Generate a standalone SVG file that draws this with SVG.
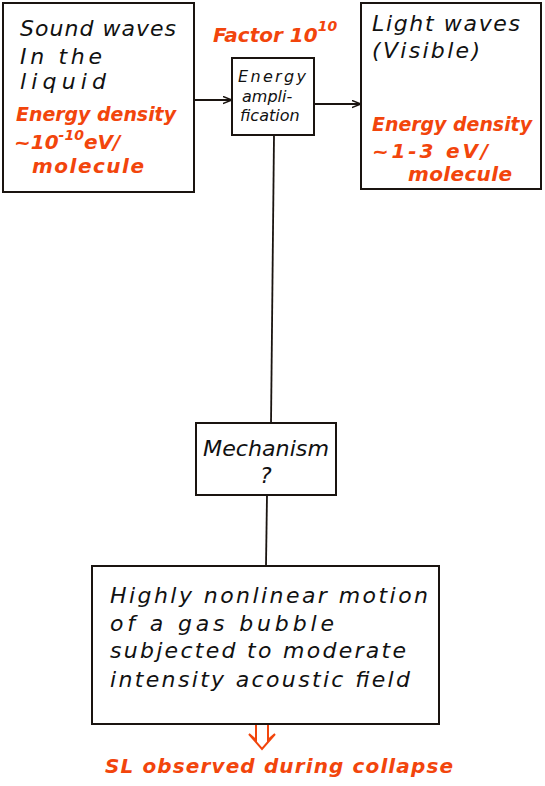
<svg xmlns="http://www.w3.org/2000/svg" width="545" height="786" viewBox="0 0 545 786">
<defs>
<style>
.box{fill:#fff;stroke:#1a1410;stroke-width:2}
.ln{stroke:#1a1410;stroke-width:1.8;fill:none}
.t{font-family:"DejaVu Sans",sans-serif;font-style:italic;font-size:22px;fill:#111}
.o{font-family:"DejaVu Sans",sans-serif;font-style:italic;font-weight:bold;font-size:20px;fill:#f2450c}
.s{font-family:"DejaVu Sans",sans-serif;font-style:italic;font-size:16px;fill:#111}
</style>
<marker id="ar" viewBox="0 0 10 10" refX="9" refY="5" markerWidth="9" markerHeight="9" orient="auto" markerUnits="userSpaceOnUse">
<path d="M0,1 L10,5 L0,9" fill="none" stroke="#1a1410" stroke-width="1.6"/>
</marker>
</defs>
<rect width="545" height="786" fill="#fff"/>
<g id="connectors">
<line class="ln" x1="194" y1="100" x2="231" y2="100" marker-end="url(#ar)"/>
<line class="ln" x1="314" y1="104" x2="360" y2="104" marker-end="url(#ar)"/>
<line class="ln" x1="274" y1="135" x2="271" y2="424"/>
<line class="ln" x1="267" y1="495" x2="266" y2="566"/>
<path d="M256,725 L256,740 L249,734 M268,725 L268,740 L275,734 M249,734 L262,749 L275,734" fill="none" stroke="#f2450c" stroke-width="2"/>
</g>
<g id="sound">
<rect class="box" x="3" y="3" width="191" height="189"/>
<text class="t" x="20" y="36" textLength="156" lengthAdjust="spacing">Sound waves</text>
<text class="t" x="20" y="64" textLength="82" lengthAdjust="spacing">In the</text>
<text class="t" x="20" y="89" textLength="86" lengthAdjust="spacing">liquid</text>
<text class="o" x="16" y="121" textLength="160" lengthAdjust="spacingAndGlyphs">Energy density</text>
<text class="o" x="14" y="149">~10<tspan dy="-9" font-size="14">-10</tspan><tspan dy="9">eV/</tspan></text>
<text class="o" x="32" y="173" textLength="112" lengthAdjust="spacing">molecule</text>
</g>
<g id="factor">
<text class="o" x="213" y="42">Factor 10<tspan dy="-11" font-size="14">10</tspan></text>
</g>
<g id="amp">
<rect class="box" x="232" y="58" width="82" height="77"/>
<text class="s" x="238" y="82" textLength="68" lengthAdjust="spacing">Energy</text>
<text class="s" x="242" y="102">ampli-</text>
<text class="s" x="240" y="121">fication</text>
</g>
<g id="light">
<rect class="box" x="361" y="3" width="180" height="186"/>
<text class="t" x="372" y="31" textLength="148" lengthAdjust="spacing">Light waves</text>
<text class="t" x="372" y="58" textLength="108" lengthAdjust="spacing">(Visible)</text>
<text class="o" x="372" y="131" textLength="160" lengthAdjust="spacingAndGlyphs">Energy density</text>
<text class="o" x="372" y="158" textLength="116" lengthAdjust="spacing">~1-3 eV/</text>
<text class="o" x="408" y="181" textLength="104" lengthAdjust="spacing">molecule</text>
</g>
<g id="mech">
<rect class="box" x="196" y="423" width="140" height="72"/>
<text class="t" x="203" y="456" textLength="126" lengthAdjust="spacingAndGlyphs">Mechanism</text>
<text class="t" x="260" y="483">?</text>
</g>
<g id="motion">
<rect class="box" x="92" y="566" width="347" height="158"/>
<text class="t" x="110" y="603" textLength="318" lengthAdjust="spacing">Highly nonlinear motion</text>
<text class="t" x="110" y="631" textLength="224" lengthAdjust="spacing">of a gas bubble</text>
<text class="t" x="110" y="658" textLength="296" lengthAdjust="spacing">subjected to moderate</text>
<text class="t" x="110" y="687" textLength="300" lengthAdjust="spacing">intensity acoustic field</text>
</g>
<g id="sl">
<text class="o" x="105" y="773" font-size="21" textLength="348" lengthAdjust="spacing">SL observed during collapse</text>
</g>
</svg>
